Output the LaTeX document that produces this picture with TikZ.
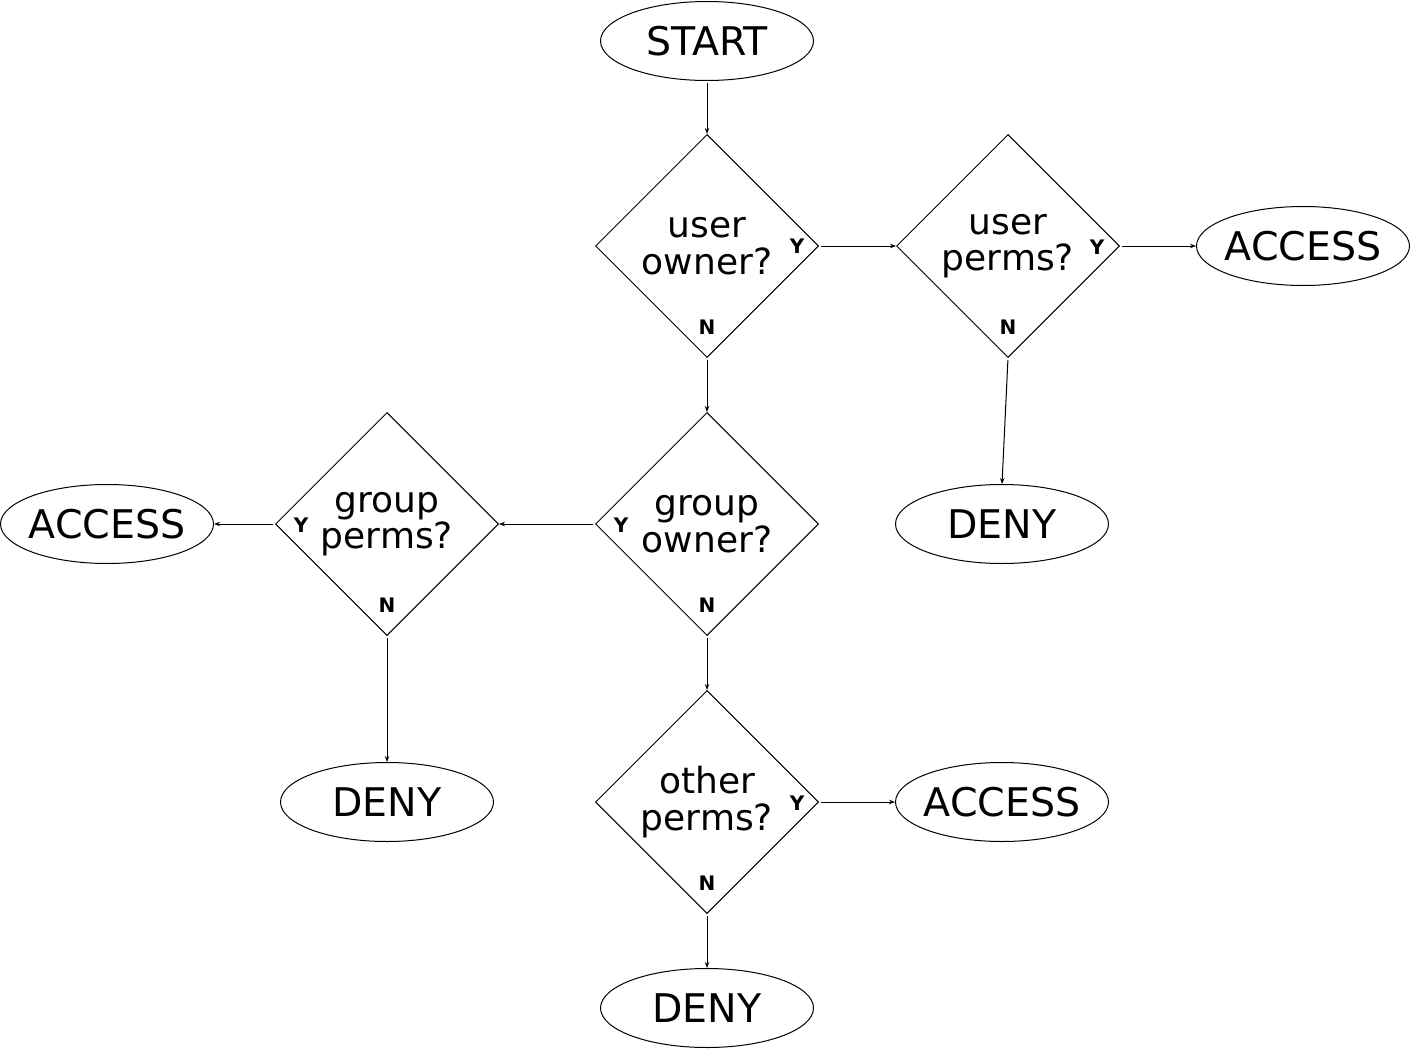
\documentclass[tikz,border=0pt]{standalone}
\usepackage{fontspec}
\setmainfont{DejaVu Sans}
\usetikzlibrary{shapes.geometric,arrows.meta}
\begin{document}
\begin{tikzpicture}[x=1pt,y=-1pt,line width=1pt,
  term/.style={draw,ellipse,minimum width=213pt,minimum height=79pt,inner xsep=-25pt,inner ysep=0pt,font=\fontsize{39.5}{44}\selectfont},
  dec/.style={draw,diamond,minimum width=223pt,minimum height=223pt,inner sep=0pt,align=center,font=\fontsize{36}{36.5}\selectfont},
  yn/.style={font=\fontsize{20}{20}\selectfont\bfseries,inner sep=0pt},
  conn/.style={-{Stealth[length=6pt,width=4.5pt]},shorten <=2pt}]
\useasboundingbox (0,0) rectangle (1411,1049);
\node[term] (start) at (707,41) {START};
\node[dec] (d1) at (707,246) {user\\owner?};
\node[dec] (d2) at (1008,246) {user\\perms?};
\node[term] (acc1) at (1303,246) {ACCESS};
\node[term] (deny1) at (1002,524) {DENY};
\node[dec] (d3) at (707,524) {group\\owner?};
\node[dec] (d4) at (387,524) {group\\perms?};
\node[term] (acc2) at (107,524) {ACCESS};
\node[term] (deny2) at (387,802) {DENY};
\node[dec] (d5) at (707,802) {other\\perms?};
\node[term] (acc3) at (1002,802) {ACCESS};
\node[term] (deny3) at (707,1008) {DENY};
\node[yn] (y1) at (797,246) {Y};
\node[yn] (n1) at (707,327) {N};
\node[yn] (y2) at (1097,247) {Y};
\node[yn] (n2) at (1008,327) {N};
\node[yn] (y3) at (621,525) {Y};
\node[yn] (n3) at (707,605) {N};
\node[yn] (y4) at (301,525) {Y};
\node[yn] (n4) at (387,605) {N};
\node[yn] (y5) at (797,803) {Y};
\node[yn] (n5) at (707,883) {N};
\draw[conn] (start.south) -- (d1.north);
\draw[conn] (d1.east) -- (d2.west);
\draw[conn] (d2.east) -- (acc1.west);
\draw[conn] (d2.south) -- (deny1.north);
\draw[conn] (d1.south) -- (d3.north);
\draw[conn] (d3.west) -- (d4.east);
\draw[conn] (d4.west) -- (acc2.east);
\draw[conn] (d4.south) -- (deny2.north);
\draw[conn] (d3.south) -- (d5.north);
\draw[conn] (d5.east) -- (acc3.west);
\draw[conn] (d5.south) -- (deny3.north);
\end{tikzpicture}
\end{document}
